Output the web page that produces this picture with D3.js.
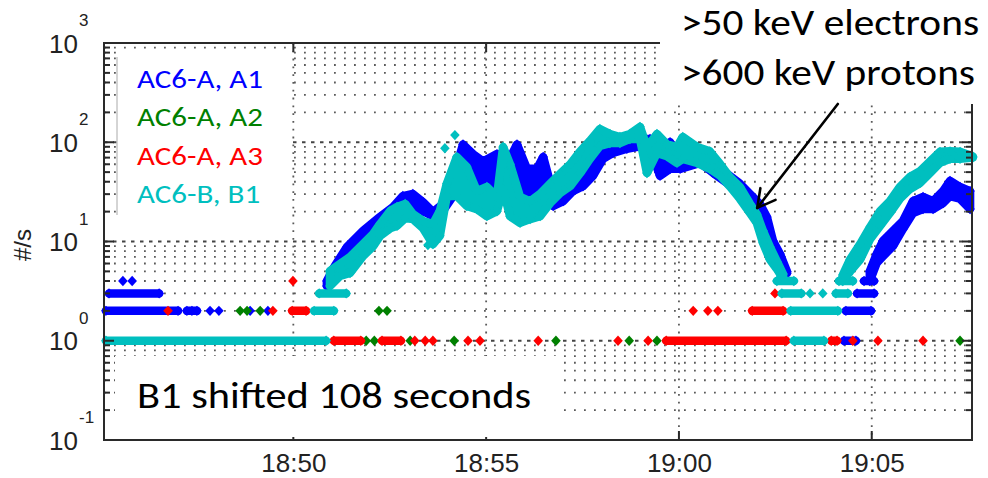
<!DOCTYPE html>
<html>
<head>
<meta charset="utf-8">
<script src="https://cdn.jsdelivr.net/npm/d3@7"></script>
<style>
  body { margin: 0; background: #fff; }
</style>
</head>
<body>
<div id="chart"></div>
<script>
// times are minutes after 18:45, counts in #/s
// each segment is a list of [t, low, high] (high left out = single value)
var tickLabels = ["18:50", "18:55", "19:00", "19:05"];
var decades = [-1, 0, 1, 2, 3];
var seriesNames = ["AC6-A, A1", "AC6-A, A2", "AC6-A, A3", "AC6-B, B1"];
var seriesColors = ["#0000ff", "#008000", "#ff0000", "#00bfbf"];

var a1 = [
  [[0.14, 2], [2.01, 2]],
  [[2.24, 2], [2.37, 2], [2.50, 2]],
  [[2.84, 2]], [[3.07, 2]], [[3.88, 2]], [[4.34, 2]],
  [[0.22, 3], [1.52, 3]],
  [[0.58, 4]], [[0.82, 4]],
  [[5.87, 3.56, 4.0], [6.08, 4.3, 5.7], [6.39, 5.9, 8.8], [6.81, 9.0, 12.8], [7.25, 12.8, 17.7],
   [7.59, 17.2, 22.3], [7.84, 21.7, 28.7], [8.10, 22.8, 30.1], [8.36, 20.3, 25.0], [8.62, 18.0, 19.8],
   [8.88, 20.3, 23.9], [9.14, 28.7, 42.7], [9.40, 51.5, 95], [9.66, 40.8, 76], [9.92, 36, 64],
   [10.28, 36, 76], [10.54, 32.2, 60], [10.80, 46, 95], [11.06, 30.8, 54], [11.32, 30.8, 54],
   [11.48, 28.7, 71], [11.74, 22.8, 30.1], [12.00, 25.5, 33.8], [12.25, 32.2, 39.6], [12.51, 36, 50],
   [12.77, 46, 63], [13.03, 68, 85], [13.29, 78, 93], [13.65, 86, 100], [13.99, 91, 108],
   [14.25, 86, 108], [14.51, 46, 68], [14.77, 54, 100], [15.03, 54, 68], [15.55, 62, 76],
   [15.89, 49, 63], [16.25, 38.8, 48], [16.58, 30.8, 38.2], [16.84, 22.8, 30.1], [17.10, 16.8, 23.9],
   [17.28, 12.2, 17.7], [17.44, 7.7, 10.1], [17.62, 5.65, 7.5], [17.80, 4.8, 5.0]],
  [[19.28, 1], [19.59, 1]],
  [[19.33, 2], [19.98, 2]],
  [[19.62, 3], [20.06, 3]],
  [[19.80, 4], [20.06, 4]],
  [[19.95, 4, 5], [20.13, 6.1, 7.5], [20.29, 7.1, 10.1], [20.55, 9.0, 12.8], [20.81, 13.4, 16.1],
   [21.07, 19.4, 25.5], [21.33, 21.2, 28.1], [21.59, 21.2, 25.5], [21.85, 24.4, 32.2],
   [22.03, 28.7, 40.8], [22.29, 27, 35.4], [22.55, 21.2, 32.2]]
];

var a2 = [
  [[3.62, 2]], [[3.80, 2]], [[4.14, 2]], [[7.22, 2]], [[7.43, 2]],
  [[6.89, 1]], [[7.10, 1]], [[8.03, 1]], [[9.17, 1]], [[11.81, 1]], [[13.71, 1]],
  [[14.43, 1]], [[22.29, 1]]
];

var a3 = [
  [[4.99, 4]], [[17.49, 3]],
  [[1.75, 2]], [[4.47, 2]], [[4.97, 2], [5.33, 2]], [[15.37, 2]], [[15.75, 2]], [[16.01, 2]],
  [[16.90, 2], [17.70, 2]],
  [[6.05, 1], [6.75, 1]], [[7.30, 1], [7.79, 1]], [[8.15, 1]], [[8.42, 1]], [[8.62, 1]],
  [[9.53, 1]], [[9.84, 1]], [[11.35, 1]], [[13.42, 1]], [[14.20, 1]], [[14.67, 1], [17.78, 1]],
  [[18.95, 1], [19.10, 1]], [[19.51, 1]], [[20.16, 1]], [[21.33, 1]]
];

var b1 = [
  [[0.14, 1], [5.85, 1]],
  [[5.54, 2], [6.05, 2]],
  [[5.67, 3], [6.37, 3]],
  [[5.95, 3.56, 5.04], [6.21, 4.49, 5.94], [6.47, 4.82, 6.98], [6.81, 7.14, 9.44], [7.07, 8.98, 11.9],
   [7.25, 11.4, 15.0], [7.51, 13.6, 20.3], [7.69, 14.4, 22.3], [7.90, 17.2, 23.9], [8.10, 16.8, 18.9],
   [8.36, 13.7, 16.1], [8.62, 9.4, 15.0], [8.80, 11.4, 20.3], [8.98, 28.8, 38.2], [9.24, 28.7, 71],
   [9.50, 22.8, 56.3], [9.76, 21.2, 32.2], [10.02, 18.0, 35.4], [10.28, 20.2, 28.1], [10.44, 33.8, 89.5],
   [10.62, 18.0, 60], [10.88, 15.4, 28.1], [11.14, 16.8, 25.4], [11.40, 18.0, 30.1], [11.66, 24.4, 38.2],
   [11.92, 30.8, 48], [12.18, 36.2, 60], [12.44, 49, 81], [12.69, 68, 103], [12.95, 92, 136],
   [13.21, 98, 121], [13.47, 98, 113], [13.73, 108, 121], [13.99, 108, 143], [14.17, 49, 89.5],
   [14.43, 78, 121], [14.69, 72.5, 95], [14.95, 62, 89.5], [15.10, 68, 113], [15.47, 62, 89.5],
   [15.80, 54, 81], [16.07, 46, 60], [16.32, 36, 44.7], [16.58, 27, 35.4], [16.84, 19.4, 24],
   [17.02, 15.4, 18.8], [17.18, 9.7, 12.8], [17.36, 6.6, 8.8], [17.54, 5.3, 6.3], [17.70, 4.2, 4.7]],
  [[8.49, 9.2]], [[8.93, 87]], [[9.19, 118]],
  [[17.54, 4], [17.98, 4]],
  [[17.67, 3], [18.17, 3]], [[18.40, 3]], [[18.73, 3]], [[19.07, 3], [19.38, 3]],
  [[17.90, 2], [19.12, 2]],
  [[17.98, 1], [18.76, 1]],
  [[19.15, 4], [19.51, 4]],
  [[19.25, 4, 4.6], [19.44, 5.0, 6.6], [19.70, 6.6, 9.4], [19.96, 10.6, 14.0], [20.22, 14.4, 20.3],
   [20.47, 19.4, 25.5], [20.73, 27, 35.4], [20.99, 33.8, 44.7], [21.25, 38.8, 51], [21.51, 49, 64],
   [21.77, 62, 80], [22.03, 68, 81], [22.29, 68, 80], [22.62, 70, 72]]
];

// arrow from the label to the falling edge, in [t, counts]
var arrowFrom = [19.12, 243];
var arrowTo = [17.03, 21.8];

var w = 988;
var h = 478;
var x0 = 104, x1 = 972, yTop = 43, yBottom = 440;

var base = new Date(2014, 0, 1, 18, 45, 0);
function toDate(m) { return new Date(+base + m * 60000); }
function labelToDate(s) {
  var p = s.split(":");
  return toDate(+p[0] * 60 + +p[1] - (18 * 60 + 45));
}

var svg = d3.select("#chart")
  .append("svg")
  .attr("width", w)
  .attr("height", h)
  .style("background-color", "white");

var x = d3.scaleTime()
  .domain([toDate(0.09), toDate(22.6)])
  .range([x0, x1]);

var y = d3.scaleLog()
  .domain([0.1, 1000])
  .range([yBottom, yTop]);

var yTicks = y.ticks().filter(function (v) { return v > 0.1 && v < 1000; });
function isMajor(v) {
  var l = Math.log10(v);
  return Math.abs(l - Math.round(l)) < 1e-6;
}

// grid
var grid = svg.append("g");
grid.selectAll("line.h")
  .data(yTicks)
  .join("line")
  .attr("x1", x0).attr("x2", x1)
  .attr("y1", function (d) { return y(d); })
  .attr("y2", function (d) { return y(d); })
  .attr("stroke", function (d) { return isMajor(d) ? "#444" : "#5a5a5a"; })
  .attr("stroke-width", 1.8)
  .attr("stroke-dasharray", function (d) { return isMajor(d) ? "3.5 5.5" : "1.8 8.2"; });

var xTickDates = tickLabels.map(labelToDate);
grid.selectAll("line.v")
  .data(xTickDates)
  .join("line")
  .attr("x1", function (d) { return x(d); })
  .attr("x2", function (d) { return x(d); })
  .attr("y1", yTop).attr("y2", yBottom)
  .attr("stroke", "#5a5a5a")
  .attr("stroke-width", 1.8)
  .attr("stroke-dasharray", "1.8 6");

// data
var area = d3.area()
  .x(function (d) { return x(toDate(d[0])); })
  .y0(function (d) { return y(d[1]); })
  .y1(function (d) { return y(d.length > 2 ? d[2] : d[1]); });

function diamond(cx, cy) {
  return "M" + cx + "," + (cy - 5.2) + "L" + (cx + 4.8) + "," + cy +
    "L" + cx + "," + (cy + 5.2) + "L" + (cx - 4.8) + "," + cy + "Z";
}

function drawSeries(segs, color) {
  var g = svg.append("g");
  g.selectAll("path.band")
    .data(segs.filter(function (s) { return s.length > 1; }))
    .join("path")
    .attr("d", area)
    .attr("fill", color)
    .attr("stroke", color)
    .attr("stroke-width", 8.5)
    .attr("stroke-linejoin", "round");
  var pts = [];
  segs.forEach(function (s) {
    s.forEach(function (p) {
      pts.push([p[0], p[1]]);
      if (p.length > 2) pts.push([p[0], p[2]]);
    });
  });
  g.selectAll("path.pt")
    .data(pts)
    .join("path")
    .attr("d", function (d) { return diamond(x(toDate(d[0])), y(d[1])); })
    .attr("fill", color);
}

[a1, a2, a3, b1].forEach(function (s, i) { drawSeries(s, seriesColors[i]); });

// axes box and ticks
var axes = svg.append("g");
axes.append("rect")
  .attr("x", x0).attr("y", yTop)
  .attr("width", x1 - x0).attr("height", yBottom - yTop)
  .attr("fill", "none")
  .attr("stroke", "#2a2a2a")
  .attr("stroke-width", 2);

var allY = y.ticks();
[[x0, 1], [x1, -1]].forEach(function (side) {
  axes.selectAll(null)
    .data(allY)
    .join("line")
    .attr("x1", side[0])
    .attr("x2", function (d) { return side[0] + side[1] * (isMajor(d) ? 10 : 6); })
    .attr("y1", function (d) { return y(d); })
    .attr("y2", function (d) { return y(d); })
    .attr("stroke", "#2a2a2a")
    .attr("stroke-width", 2);
});

[[yBottom, -1], [yTop, 1]].forEach(function (side) {
  axes.selectAll(null)
    .data(xTickDates)
    .join("line")
    .attr("x1", function (d) { return x(d); })
    .attr("x2", function (d) { return x(d); })
    .attr("y1", side[0])
    .attr("y2", side[0] + side[1] * 9)
    .attr("stroke", "#2a2a2a")
    .attr("stroke-width", 2);
});

// x tick labels
var xAxis = d3.axisBottom(x)
  .tickValues(xTickDates)
  .tickFormat(function (d, i) { return tickLabels[i]; })
  .tickSize(0)
  .tickPadding(13.5);
var xg = svg.append("g")
  .attr("transform", "translate(0," + yBottom + ")")
  .call(xAxis);
xg.select(".domain").remove();
xg.selectAll("text")
  .attr("font-family", "'Liberation Sans', Arial, sans-serif")
  .attr("font-size", "26px")
  .attr("fill", "#222");

// y tick labels: 10 with exponent
var yl = svg.append("g")
  .attr("font-family", "'Liberation Sans', Arial, sans-serif")
  .attr("fill", "#222");
yl.selectAll("text.base")
  .data(decades)
  .join("text")
  .attr("x", 78)
  .attr("y", function (d) { return y(Math.pow(10, d)) + 9.5; })
  .attr("text-anchor", "end")
  .attr("font-size", "26px")
  .text("10");
yl.selectAll("text.exp")
  .data(decades)
  .join("text")
  .attr("x", 79)
  .attr("y", function (d) { return y(Math.pow(10, d)) - 17; })
  .attr("font-size", "17px")
  .text(function (d) { return String(d); });

svg.append("text")
  .attr("transform", "translate(31,245) rotate(-90)")
  .attr("text-anchor", "middle")
  .attr("font-family", "'Liberation Sans', Arial, sans-serif")
  .attr("font-size", "24px")
  .attr("fill", "#222")
  .text("#/s");

// white overlay boxes
svg.append("rect").attr("x", 117).attr("y", 50).attr("width", 173).attr("height", 167).attr("fill", "white");
svg.append("line").attr("x1", 117).attr("x2", 117).attr("y1", 57).attr("y2", 215)
  .attr("stroke", "#aaa").attr("stroke-width", 1);
svg.append("rect").attr("x", 660).attr("y", 0).attr("width", 328).attr("height", 104).attr("fill", "white");
svg.append("rect").attr("x", 115).attr("y", 356).attr("width", 447).attr("height", 81).attr("fill", "white");

// calibri-like text: lato squeezed a little in height
var textFont = "Carlito, Lato, 'Open Sans', sans-serif";
var squeeze = 0.88;
function addText(px, py, str, size, color) {
  return svg.append("text")
    .attr("transform", "translate(" + px + "," + py + ") scale(1," + squeeze + ")")
    .attr("font-family", textFont)
    .attr("font-size", size + "px")
    .attr("fill", color)
    .text(str);
}
function fitText(sel, target) {
  var len = sel.node().getComputedTextLength();
  var fs = parseFloat(sel.attr("font-size"));
  sel.attr("font-size", (fs * target / len) + "px");
  return fs * target / len;
}

// legend
var legendRows = seriesNames.map(function (name, i) {
  return addText(137, 88 + i * 38.3, name, 30, seriesColors[i]);
});
var legendSize = fitText(legendRows[0], 126);
legendRows.forEach(function (r) { r.attr("font-size", legendSize + "px"); });

// annotation texts
var t1 = addText(681, 35, ">50 keV electrons", 40, "black");
var annSize = fitText(t1, 298);
addText(681, 85, ">600 keV protons", annSize, "black");

var t3 = addText(137, 408, "B1 shifted 108 seconds", 40, "black");
fitText(t3, 394);

// arrow
var ax0 = x(toDate(arrowFrom[0])), ay0 = y(arrowFrom[1]);
var ax1 = x(toDate(arrowTo[0])), ay1 = y(arrowTo[1]);
var ang = Math.atan2(ay0 - ay1, ax0 - ax1);
var arrow = svg.append("g").attr("stroke", "black").attr("stroke-width", 2.6).attr("fill", "none")
  .attr("stroke-linecap", "round");
arrow.append("line").attr("x1", ax0).attr("y1", ay0).attr("x2", ax1).attr("y2", ay1);
[-0.5, 0.5].forEach(function (da) {
  arrow.append("line")
    .attr("x1", ax1).attr("y1", ay1)
    .attr("x2", ax1 + 20 * Math.cos(ang + da))
    .attr("y2", ay1 + 20 * Math.sin(ang + da));
});
</script>
</body>
</html>
